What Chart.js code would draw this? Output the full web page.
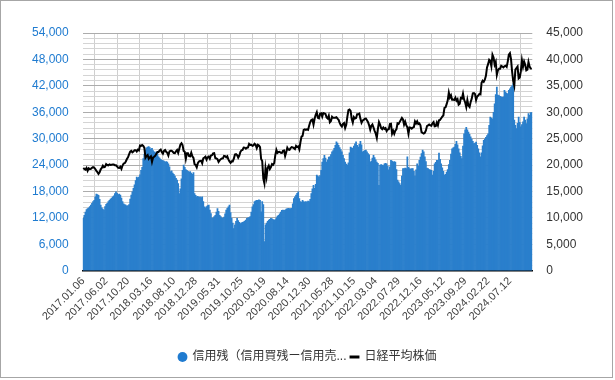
<!DOCTYPE html>
<html><head><meta charset="utf-8">
<script src="https://cdn.jsdelivr.net/npm/chart.js@4.4.1/dist/chart.umd.min.js"></script>
<style>
html,body{margin:0;padding:0;background:#fff;}
#wrap{position:absolute;left:0;top:0;width:613px;height:378px;border:1px solid #a6a6a6;box-sizing:border-box;background:#fff;}
</style></head><body>
<div id="wrap"><canvas id="c"></canvas></div>
<script>
const tickLabels = ['2017.01.06','2017.06.02','2017.10.20','2018.03.16','2018.08.10','2018.12.28','2019.05.31','2019.10.25','2020.03.19','2020.08.14','2020.12.30','2021.05.28','2021.10.15','2022.03.04','2022.07.29','2022.12.16','2023.05.12','2023.09.29','2024.02.22','2024.07.12'];
const skipWeeks = ['2019.05.03'];

const marginBalance = [
// 2017
11900,12600,13300,13900, 14100,14300,14600,14900, 15300,15700,16000,16800,17400, 17300,17100,16200,14900,
14300,14000,13800,14600, 15100,15300,15700,16000,16300, 16500,16800,17000,17500, 17900,17600,17300,17400,
17200,16500,15700,15200,15000, 14900,14700,14800,15000, 16300,17200,17900,18700, 19500,20500,21300,21100,21300,
// 2018
21800,22800,23500,25500, 26500,27400,27900,28100, 28200,28000,27600,27800,27300, 27000,26800,27000,26600,
25900,25600,25300,25100, 25000,24900,24700,24800,24700, 24300,23600,22500,22700, 22200,21900,21500,21000,20600,
19800,17500,18600,20900, 22800,24000,23500,23000, 22800,22600,22400,22500,22200, 21900,22300,17500,17100,
// 2019
16800,16900,16700,16800, 16600,16800,15700,14500, 14300,14600,14800,14900,13800, 13000,11900,12000,12300,
12600,13300,14100,13500, 12600,12300,12000,11900, 12200,12900,13800,14200, 14500,14900,13200,11900,10800,
9600,10400,11200,11900, 11400,11000,10700,10900, 11000,11100,11300,11500,11900, 12000,12100,12300,13300, 14500,
// 2020
15000,15700,15900,16000, 16000,16100,16000,13400, 15700,15000,6600,10400, 10800,11200,11500,11700,
11900,11800,11600,11500,11600, 12000,12400,12600,12900, 13300,13700,13800,13700,13800, 14000,14100,14200,14100,
14100,14200,15200,16400, 16800,17200,17600,17900,16400, 15700,15600,16000,15700, 15600,15700,15600,15800,15700,
// 2021
16200,17500,18600,19400, 18700,19600,21700,21500, 21300,21600,22800,24700, 25500,26200,25600,24700,25200,
25800,25900,26400,27000, 27300,27800,28500,29300, 29000,28500,28000,27500,27000, 26200,25500,24700,24200,
24000,24500,26800,28100, 27900,27800,28300,28800,29300, 28500,28100,28700,29400, 28600,27000,27200,27300,27400,
// 2022
27000,26600,26300,24700, 24900,25600,26200,25700, 25200,24700,24400,19400, 24000,24100,24000,23900,24300,
24400,24300,23700,22900, 23600,25100,24900,24700, 24800,24700,23000,20600,20200, 19800,19400,21500,23200,
23200,23300,23200,25900,23500, 23200,23100,23200,23200, 22600,21500,22900,24300, 23700,25100,25800,26600,27400,
// 2023
27000,25900,24800,23300, 23200,23000,22900,22800, 21700,22600,24300,24600,25100, 25100,26700,25300,24300,
23400,22600,21700,21900, 22400,23000,24100,25100,26500, 27700,27900,28100,28700, 29400,28600,27700,26800,
26000,25500,28300,31100,32000, 32600,32000,31500,31000, 30400,29900,29400,28900, 29000,29200,28500,27700,26800,
// 2024
25900,26800,28400,29600, 29900,30300,30700,31100, 33000,34900,34700,34500,36000, 37900,40000,41700,39900,
39800,39600,39500,39400,39500, 41000,40600,40300,40200, 41000,41300,41700,42000, 42500,34200,33000,32300,33500,
34900,33700,32700,33200, 33800,34900,34200,33400, 34500,35700,35300,35900,35900
];

const nikkei = [
// 2017
19454,19287,19137,19467, 18918,19378,19235,19283, 19469,19604,19521,19262,18909, 18664,18335,18620,19197,
19445,19883,19590,19687, 20177,20013,19943,20132,20033, 20080,20118,20099,19959, 19952,19730,19470,19452,
19691,19274,19909,20296,20356, 20690,21155,21457,22008, 22539,22681,22397,22550, 22819,22811,22553,22902,22764,
// 2018
23714,23653,23808,23631, 23274,21383,21720,21892, 21182,21469,21676,20617,21454, 21567,21778,22162,22468,
22472,22758,22930,22451, 22171,22694,22851,22516,22305, 21788,22597,22698,22712, 22525,22298,22270,22601,22865,
22307,23094,23869,24120, 23783,22694,22532,21184, 22243,22250,21680,21646,22351, 21678,21374,20166,20015,
// 2019
19562,20360,20666,20774, 20788,20333,21281,21426, 21603,21025,21451,21627,21206, 21808,21871,22200,22259,
21345,21250,21117,20601, 20885,21117,21259,21276, 21746,21686,21467,21658, 21087,20685,20419,20711,20704,
21200,21988,22079,21879, 21410,21799,22493,22800, 22851,23332,23303,23113,23294, 23354,24023,23816,23838, 23657,
// 2020
23740,24041,23827,23205, 23828,23688,23387,21143, 20750,17431,16553,19389, 17820,19499,19897,19262,
19619,20179,20037,20388,21878, 22863,22305,22479,22512, 22306,22290,22696,22751,21710, 22418,23289,22920,22883,
23205,23406,23360,23205, 23030,23620,23411,23516,22977, 24325,25385,25527,26644, 26751,26652,26763,26657,27444,
// 2021
28139,28519,28631,27663, 28779,29520,30018,28966, 28864,29717,29792,29176, 29854,29768,29683,29020,28813,
29358,28084,28317,29149, 28942,28948,28964,29066, 28783,28569,28003,27548,27284, 27820,27977,27013,27641,
29128,30382,30500,30249, 28771,28049,29068,28805,28893, 29612,29610,29745,28752, 28029,28437,28546,28782,28792,
// 2022
28478,28124,27522,26717, 27440,27696,27122,26476, 25985,25162,26827,28149, 27665,26985,26799,27105,26848,
27003,26427,26739,26781, 27761,27824,25963,26491, 25935,26517,26788,27915,27801, 28175,28546,28930,28641,
27650,28214,27567,27153,25937, 27116,27090,26890,27105, 27199,28263,27899,28283, 27777,27901,27527,26235,26094,
// 2023
25973,26119,26553,27382, 27509,27670,27513,27453, 27927,28143,27333,27385,28041, 27518,28493,28564,28856,
29157,29388,30808,30916, 31524,32265,33706,32781,33189, 32388,32391,32304,32759, 32193,32473,31450,31624,
32710,32607,33533,32402,31857, 30994,32315,31259,30991, 31950,32568,33585,33625, 33431,32307,32970,33169,33464,
// 2024
33377,35577,35963,35751, 36158,36897,38487,39098, 39910,39688,38707,40888,40369, 38992,39523,37068,37934,
38236,38229,38787,38646,38487, 38683,38814,38596,39583, 40912,41190,40063,37667, 35910,35025,38062,38364,38648,
36391,36581,37724,39830, 38635,39606,38981,37914, 38054,39500,38642,38284,38208
];

// weekly category labels (last trading day of each week)
function fmt(d){return d.getUTCFullYear()+'.'+String(d.getUTCMonth()+1).padStart(2,'0')+'.'+String(d.getUTCDate()).padStart(2,'0');}
const categories=[];
let d=new Date(Date.UTC(2017,0,6));
while(categories.length<marginBalance.length){
  const s=fmt(d);
  if(!skipWeeks.includes(s)) categories.push(s);
  d=new Date(d.getTime()+7*86400000);
}
tickLabels.forEach(t=>{const idx=categories.findIndex(c=>c>=t); if(idx>=0) categories[idx]=t;});

const FONT='"Liberation Sans", Arial, "Noto Sans CJK JP", sans-serif';
new Chart(document.getElementById('c'),{
  data:{labels:categories,datasets:[
    {type:'bar',label:'信用残（信用買残ー信用売残）',data:marginBalance,backgroundColor:'#2a7fcc',borderWidth:0,barPercentage:1,categoryPercentage:1,yAxisID:'y',order:1},
    {type:'line',label:'日経平均株価',data:nikkei,borderColor:'#000',borderWidth:2,pointRadius:0,tension:0,yAxisID:'y1',order:0,pointStyle:'line'}
  ]},
  options:{
    responsive:true,maintainAspectRatio:false,animation:false,
    layout:{padding:{left:17,right:15,top:32,bottom:4}},
    plugins:{
      tooltip:{enabled:false},
      legend:{position:'bottom',labels:{
        usePointStyle:true,boxHeight:7,boxWidth:8,padding:4,color:'#333',font:{family:FONT,size:12},
        sort:(a,b)=>a.datasetIndex-b.datasetIndex,
        generateLabels(chart){
          const items=Chart.defaults.plugins.legend.labels.generateLabels(chart);
          items.forEach(it=>{
            if(it.datasetIndex===0){it.text='信用残（信用買残ー信用売...';it.pointStyle='circle';it.fillStyle='#1f7bd0';it.strokeStyle='#1f7bd0';}
            else{it.pointStyle='line';it.lineWidth=3;it.strokeStyle='#000';}
          });
          return items;
        }
      }}
    },
    scales:{
      x:{
        afterFit(s){s.height+=20;},
        grid:{color:'#cfcfcf',drawTicks:false,offset:true},
        border:{color:'#000',width:1.5},
        ticks:{autoSkip:false,minRotation:45,maxRotation:45,color:'#404040',font:{family:FONT,size:11},padding:4,
          callback(v){const l=this.getLabelForValue(v);return tickLabels.includes(l)?l:null;}}
      },
      y:{
        position:'left',min:0,max:54000,
        ticks:{stepSize:1200,autoSkip:false,color:'#1f7bd0',font:{family:FONT,size:12},padding:14,
          callback(v){return Math.round(v)%6000===0?Math.round(v).toLocaleString('en-US'):'';}},
        grid:{drawTicks:false,lineWidth:1,color:(c)=>(c.tick&&Math.round(c.tick.value)%6000===0)?'#acacac':'#d4d4d4'},
        border:{display:false}
      },
      y1:{
        position:'right',min:0,max:45000,
        ticks:{stepSize:5000,color:'#333',font:{family:FONT,size:12},padding:14,
          callback(v){return v.toLocaleString('en-US');}},
        grid:{drawOnChartArea:false,drawTicks:false},
        border:{display:false}
      }
    }
  }
});
</script>
</body></html>
